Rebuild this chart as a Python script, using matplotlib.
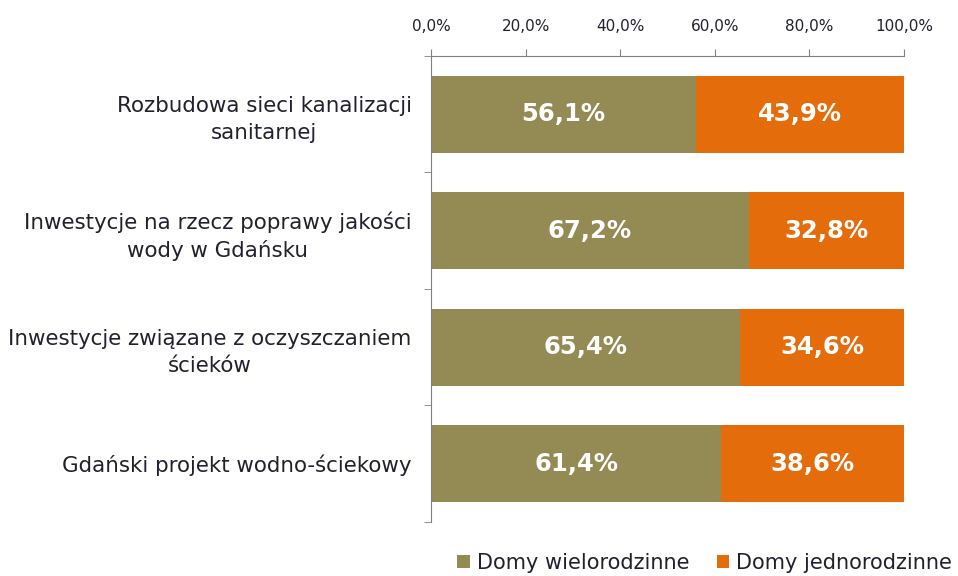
import matplotlib.pyplot as plt
from matplotlib.ticker import FixedLocator, FuncFormatter

categories = [
    "Rozbudowa sieci kanalizacji\nsanitarnej",
    "Inwestycje na rzecz poprawy jakości\nwody w Gdańsku",
    "Inwestycje związane z oczyszczaniem\nścieków",
    "Gdański projekt wodno-ściekowy",
]
multi = [56.1, 67.2, 65.4, 61.4]
single = [43.9, 32.8, 34.6, 38.6]
series_names = ["Domy wielorodzinne", "Domy jednorodzinne"]
ticks = [0, 20, 40, 60, 80, 100]

olive = "#948A54"
orange = "#E46C0A"
text_color = "#202030"

fig = plt.figure(figsize=(9.58, 5.76), dpi=100)
ax = fig.add_axes([0.4499, 0.0938, 0.4937, 0.8090])

y = list(range(len(categories)))
ax.barh(y, multi, height=0.66, color=olive, label=series_names[0])
ax.barh(y, single, left=multi, height=0.66, color=orange, label=series_names[1])


def pct(v):
    return f"{v:.1f}%".replace(".", ",")


for i in y:
    ax.text(multi[i] / 2, i, pct(multi[i]), ha="center", va="center",
            color="white", fontsize=17.5, fontweight="bold")
    ax.text(multi[i] + single[i] / 2, i, pct(single[i]), ha="center",
            va="center", color="white", fontsize=17.5, fontweight="bold")

ax.set_xlim(0, 100)
ax.set_ylim(len(categories) - 0.5, -0.5)
ax.xaxis.tick_top()
ax.set_xticks(ticks)
ax.xaxis.set_major_formatter(FuncFormatter(lambda v, p: pct(v)))
ax.tick_params(axis="x", direction="out", length=5, color="#808080", labelsize=11,
               labelcolor=text_color, pad=11)

ax.set_yticks(y)
ax.set_yticklabels(categories, fontsize=15.4, color=text_color, ha="right",
                   multialignment="center", linespacing=1.4)
ax.yaxis.set_minor_locator(FixedLocator([-0.5, 0.5, 1.5, 2.5, 3.5]))
ax.tick_params(axis="y", which="major", length=0, pad=14)
ax.tick_params(axis="y", which="minor", direction="out", length=5, color="#808080")

for s in ["right", "bottom"]:
    ax.spines[s].set_visible(False)
for s in ["top", "left"]:
    ax.spines[s].set_color("#808080")

ax.legend(loc="center", bbox_to_anchor=(0.579, -0.088), ncol=2, frameon=False,
          fontsize=15, handlelength=0.6, handleheight=0.6, handletextpad=0.35,
          columnspacing=1.3, labelcolor=text_color)

fig.savefig("out.png", dpi=100)
